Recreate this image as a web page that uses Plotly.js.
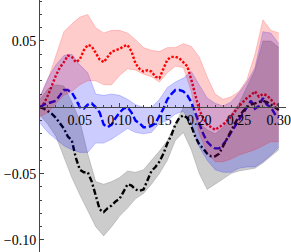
<!DOCTYPE html>
<html><head><meta charset="utf-8">
<script src="https://cdn.plot.ly/plotly-3.0.1.min.js"></script>
<style>html,body{margin:0;padding:0;background:#fff}</style>
</head><body><div id="chart" style="width:291px;height:252px"></div>
<script>
const xLine = [0,0.005,0.01,0.015,0.02,0.025,0.03,0.035,0.04,0.045,0.05,0.055,0.06,0.065,0.07,0.075,0.08,0.085,0.09,0.095,0.10,0.105,0.11,0.115,0.12,0.125,0.13,0.135,0.14,0.145,0.15,0.155,0.16,0.165,0.17,0.175,0.18,0.185,0.19,0.195,0.20,0.205,0.21,0.215,0.22,0.225,0.23,0.235,0.24,0.245,0.25,0.255,0.26,0.265,0.27,0.275,0.28,0.285,0.29,0.295,0.30];
const redMean = [0,0.003,0.009,0.017,0.024,0.030,0.034,0.039,0.038,0.034,0.036,0.043,0.047,0.046,0.041,0.036,0.034,0.038,0.042,0.043,0.044,0.046,0.047,0.042,0.033,0.029,0.027,0.028,0.027,0.023,0.022,0.029,0.036,0.038,0.038,0.037,0.034,0.031,0.021,0.009,-0.002,-0.008,-0.013,-0.015,-0.017,-0.015,-0.013,-0.010,-0.007,-0.003,0.001,0.004,0.007,0.009,0.012,0.008,0.010,0.009,0.006,0.002,0.002];
const blueMean = [0,0.002,0.003,0.004,0.005,0.009,0.013,0.013,0.011,0.006,0.000,-0.001,0.002,0.003,0.000,-0.004,-0.013,-0.015,-0.013,-0.008,-0.004,-0.001,0.000,-0.004,-0.010,-0.012,-0.015,-0.015,-0.014,-0.012,-0.007,-0.001,0.006,0.010,0.013,0.013,0.012,0.009,0.004,-0.004,-0.012,-0.020,-0.026,-0.029,-0.031,-0.031,-0.028,-0.024,-0.019,-0.014,-0.009,-0.004,0.000,0.005,-0.001,0.001,0.007,0.002,0.000,-0.005,-0.008];
const blackMean = [0,-0.001,-0.003,-0.005,-0.008,-0.012,-0.016,-0.022,-0.025,-0.038,-0.047,-0.049,-0.049,-0.056,-0.067,-0.077,-0.079,-0.076,-0.074,-0.071,-0.069,-0.064,-0.058,-0.059,-0.062,-0.063,-0.062,-0.055,-0.048,-0.045,-0.041,-0.035,-0.027,-0.021,-0.013,-0.008,-0.006,-0.008,-0.014,-0.022,-0.028,-0.031,-0.035,-0.037,-0.037,-0.035,-0.029,-0.023,-0.018,-0.012,-0.007,-0.003,0.000,0.002,0.003,0.004,0.005,0.004,0.002,0.000,-0.002];

const xBand = [0,0.01,0.02,0.03,0.04,0.05,0.06,0.07,0.08,0.09,0.10,0.11,0.12,0.13,0.14,0.15,0.16,0.17,0.18,0.19,0.20,0.21,0.22,0.23,0.24,0.25,0.26,0.27,0.28,0.29,0.30];
const redLow  = [-0.007,-0.004,0.003,0.009,0.012,0.017,0.020,0.020,0.017,0.017,0.024,0.029,0.028,0.025,0.023,0.019,0.026,0.031,0.030,0.012,-0.020,-0.034,-0.041,-0.041,-0.039,-0.036,-0.034,-0.032,-0.029,-0.026,-0.026];
const redHigh = [0.008,0.021,0.039,0.057,0.063,0.068,0.070,0.060,0.056,0.058,0.058,0.056,0.051,0.045,0.043,0.042,0.045,0.045,0.048,0.046,0.038,0.023,0.010,0.006,0.008,0.012,0.021,0.040,0.066,0.058,0.056];
const blueLow  = [-0.012,-0.019,-0.024,-0.029,-0.032,-0.034,-0.034,-0.027,-0.027,-0.024,-0.020,-0.016,-0.019,-0.020,-0.019,-0.012,-0.010,-0.005,-0.003,-0.012,-0.030,-0.040,-0.047,-0.049,-0.049,-0.046,-0.045,-0.045,-0.041,-0.036,-0.030];
const blueHigh = [0.008,0.022,0.032,0.039,0.040,0.032,0.026,0.010,0.009,0.010,0.009,0.006,0.002,0.000,0.000,0.006,0.015,0.019,0.022,0.027,0.017,0.007,0.003,0.001,0.004,0.011,0.019,0.030,0.057,0.056,0.048];
const grayLow  = [-0.006,-0.013,-0.022,-0.038,-0.053,-0.066,-0.078,-0.090,-0.097,-0.090,-0.082,-0.076,-0.069,-0.065,-0.058,-0.050,-0.040,-0.025,-0.019,-0.032,-0.050,-0.062,-0.058,-0.054,-0.050,-0.048,-0.047,-0.046,-0.042,-0.037,-0.032];
const grayHigh = [0.006,0.014,0.017,0.016,0.004,-0.010,-0.035,-0.056,-0.058,-0.056,-0.053,-0.048,-0.049,-0.047,-0.040,-0.033,-0.025,-0.012,0.000,0.000,-0.012,-0.017,-0.020,-0.015,-0.005,0.003,0.015,0.028,0.050,0.050,0.045];

const xTicks = [0.05,0.10,0.15,0.20,0.25,0.30];
const xTickText = ['0.05','0.10','0.15','0.20','0.25','0.30'];
const yTicks = [-0.10,-0.05,0.05];
const yTickText = ['\u22120.10','\u22120.05','0.05'];

function meanLine(y, color, dash) {
  return {x: xLine, y: y, type: 'scatter', mode: 'lines', hoverinfo: 'skip',
          xaxis: 'x', yaxis: 'y', line: {color: color, width: 2.4, dash: dash}};
}
function band(lo, hi, edge, fill) {
  return [
    {x: xBand, y: lo, type: 'scatter', mode: 'lines', hoverinfo: 'skip', xaxis: 'x2', yaxis: 'y2',
     line: {color: edge, width: 0.6}},
    {x: xBand, y: hi, type: 'scatter', mode: 'lines', hoverinfo: 'skip', xaxis: 'x2', yaxis: 'y2',
     line: {color: edge, width: 0.6}, fill: 'tonexty', fillcolor: fill}
  ];
}

const data = [
  meanLine(redMean, 'rgb(255,0,0)', '2.4px,1.8px'),
  meanLine(blueMean, 'rgb(0,0,255)', '7px,3px'),
  meanLine(blackMean, 'rgb(0,0,0)', '6px,2.5px,2px,2.5px'),
  ...band(grayLow, grayHigh, 'rgba(0,0,0,0.25)', 'rgba(0,0,0,0.2)'),
  ...band(blueLow, blueHigh, 'rgba(0,0,255,0.3)', 'rgba(0,0,255,0.2)'),
  ...band(redLow, redHigh, 'rgba(255,0,0,0.3)', 'rgba(255,0,0,0.2)')
];

const xMin = 0, xMax = 0.309;
const yMin = -0.1091, yMax = 0.0809;
const tickFont = {family: 'Liberation Serif, Times New Roman, serif', size: 14, color: '#000'};
const minorTicks = {tickmode: 'linear', tick0: 0, dtick: 0.01, ticks: 'inside', ticklen: 2, tickcolor: '#444', showgrid: false};
const layout = {
  width: 291, height: 252,
  margin: {l: 40, r: 5, t: 0, b: 0},
  paper_bgcolor: '#fff', plot_bgcolor: '#fff',
  showlegend: false,
  xaxis: {range: [xMin, xMax], visible: false, fixedrange: true},
  yaxis: {range: [yMin, yMax], visible: false, fixedrange: true},
  xaxis2: {
    overlaying: 'x', range: [xMin, xMax], anchor: 'free', position: (0 - yMin) / (yMax - yMin),
    showline: true, linecolor: '#444', linewidth: 1, layer: 'above traces',
    ticks: 'inside', ticklen: 4, tickcolor: '#444', tickwidth: 1,
    tickvals: xTicks, ticktext: xTickText, tickfont: tickFont, ticklabeloverflow: 'allow',
    showgrid: false, zeroline: false, fixedrange: true, minor: minorTicks
  },
  yaxis2: {
    overlaying: 'y', anchor: 'x2', side: 'left', range: [yMin, yMax],
    showline: true, linecolor: '#444', linewidth: 1, layer: 'above traces',
    ticks: 'inside', ticklen: 4, tickcolor: '#444', tickwidth: 1,
    tickvals: yTicks, ticktext: yTickText, tickfont: tickFont, ticklabeloverflow: 'allow',
    showgrid: false, zeroline: false, fixedrange: true, minor: minorTicks
  }
};
Plotly.newPlot('chart', data, layout, {staticPlot: true, displayModeBar: false});
</script></body></html>
